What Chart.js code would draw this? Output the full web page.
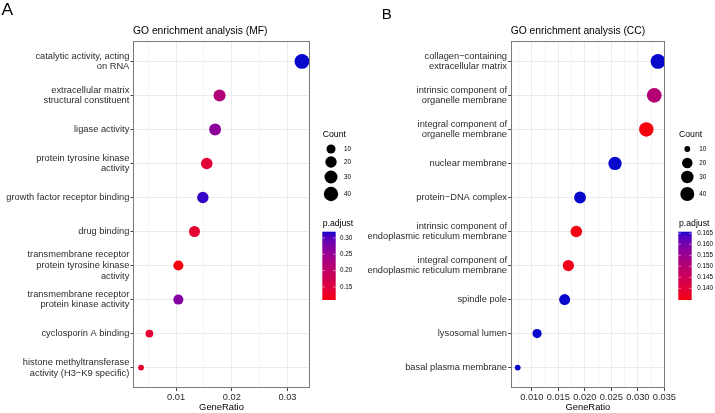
<!DOCTYPE html>
<html><head><meta charset="utf-8">
<script src="https://cdn.jsdelivr.net/npm/chart.js@4.4.1/dist/chart.umd.min.js"></script>
<style>
html,body{margin:0;padding:0;background:#fff;}
#wrap{position:relative;width:715px;height:413px;overflow:hidden;background:#fff;}
canvas{position:absolute;top:0;}
</style></head><body>
<div id="wrap">
<canvas id="cA" width="357" height="413" style="left:0px;width:357px;height:413px"></canvas>
<canvas id="cB" width="358" height="413" style="left:357px;width:358px;height:413px"></canvas>
</div>
<script>
// ---------------- data ----------------
const mfTerms = [
  ["catalytic activity, acting","on RNA"],
  ["extracellular matrix","structural constituent"],
  "ligase activity",
  ["protein tyrosine kinase","activity"],
  "growth factor receptor binding",
  "drug binding",
  ["transmembrane receptor","protein tyrosine kinase","activity"],
  ["transmembrane receptor","protein kinase activity"],
  "cyclosporin A binding",
  ["histone methyltransferase","activity (H3\u2212K9 specific)"]
];
const mfGeneRatio = [0.0326,0.0178,0.0170,0.0155,0.0148,0.0133,0.0104,0.0104,0.0052,0.0037];
const mfCount     = [44,24,23,21,20,18,14,14,7,5];
const mfPadjust   = [0.319,0.222,0.262,0.145,0.312,0.140,0.110,0.268,0.141,0.137];
const mfXTicks    = [0.01,0.02,0.03];
const mfXLabels   = ["0.01","0.02","0.03"];
const mfPTicks    = [0.15,0.20,0.25,0.30];
const mfPLabels   = ["0.15","0.20","0.25","0.30"];

const ccTerms = [
  ["collagen\u2212containing","extracellular matrix"],
  ["intrinsic component of","organelle membrane"],
  ["integral component of","organelle membrane"],
  "nuclear membrane",
  "protein\u2212DNA complex",
  ["intrinsic component of","endoplasmic reticulum membrane"],
  ["integral component of","endoplasmic reticulum membrane"],
  "spindle pole",
  "lysosomal lumen",
  "basal plasma membrane"
];
const ccGeneRatio = [0.0338,0.0331,0.0316,0.0257,0.0191,0.0184,0.0169,0.0162,0.0110,0.00735];
const ccCount     = [46,45,43,35,26,25,23,22,15,10];
const ccPadjust   = [0.1657,0.1505,0.1347,0.1657,0.1657,0.1352,0.1357,0.1657,0.1657,0.1657];
const ccXTicks    = [0.010,0.015,0.020,0.025,0.030,0.035];
const ccXLabels   = ["0.010","0.015","0.020","0.025","0.030","0.035"];
const ccPTicks    = [0.140,0.145,0.150,0.155,0.160,0.165];
const ccPLabels   = ["0.140","0.145","0.150","0.155","0.160","0.165"];

const countBreaks = [10,20,30,40];
const countLabels = ["10","20","30","40"];

// ---------------- helpers ----------------
const FONT = '"Liberation Sans", Arial, Helvetica, sans-serif';
function lin(c){c/=255;return c<=0.04045?c/12.92:Math.pow((c+0.055)/1.055,2.4);}
function toLab(r,g,b){
  const R=lin(r),G=lin(g),B=lin(b);
  const X=(0.4124*R+0.3576*G+0.1805*B)/0.95047,Y=(0.2126*R+0.7152*G+0.0722*B),Z=(0.0193*R+0.1192*G+0.9505*B)/1.08883;
  const h=t=>t>0.008856?Math.cbrt(t):(7.787*t+16/116);
  const fx=h(X),fy=h(Y),fz=h(Z);
  return [116*fy-16,500*(fx-fy),200*(fy-fz)];
}
function fromLab(L,a,b){
  const fy=(L+16)/116,fx=fy+a/500,fz=fy-b/200;
  const inv=t=>{const t3=t*t*t;return t3>0.008856?t3:(t-16/116)/7.787;};
  const X=0.95047*inv(fx),Y=inv(fy),Z=1.08883*inv(fz);
  const R=3.2406*X-1.5372*Y-0.4986*Z,G=-0.9689*X+1.8758*Y+0.0415*Z,B=0.0557*X-0.2040*Y+1.0570*Z;
  const g=c=>{c=c<=0.0031308?12.92*c:1.055*Math.pow(Math.max(c,0),1/2.4)-0.055;return Math.round(255*Math.min(1,Math.max(0,c)));};
  return 'rgb('+g(R)+','+g(G)+','+g(B)+')';
}
const LOW=toLab(245,0,12), HIGH=toLab(8,8,205);
function ramp(t){t=Math.min(1,Math.max(0,t));return fromLab(LOW[0]+(HIGH[0]-LOW[0])*t,LOW[1]+(HIGH[1]-LOW[1])*t,LOW[2]+(HIGH[2]-LOW[2])*t);}
function sizeR(c,cmin,cmax){return 2.9+4.5*Math.sqrt(Math.max(0,(c-cmin)/(cmax-cmin)));}

function minorBreaks(majors,lo,hi){
  const bd=majors[1]-majors[0];
  let b=majors.slice();
  if(lo<b[0]) b.unshift(b[0]-bd);
  if(hi>b[b.length-1]) b.push(b[b.length-1]+bd);
  const out=[];
  for(let i=0;i<b.length-1;i++){out.push(b[i]);out.push((b[i]+b[i+1])/2);}
  out.push(b[b.length-1]);
  return out.filter(v=>v>=lo-1e-12&&v<=hi+1e-12);
}

const deco = {
  id:'deco',
  afterDraw(chart){
    const o=chart.options.plugins.deco; const ctx=chart.ctx; const ca=chart.chartArea;
    ctx.save();
    // panel border
    ctx.strokeStyle='#7a7a7a'; ctx.lineWidth=1;
    ctx.strokeRect(Math.round(ca.left)+0.5,Math.round(ca.top)+0.5,Math.round(ca.right-ca.left)-1,Math.round(ca.bottom-ca.top)-1);
    // panel letter
    ctx.fillStyle='#000'; ctx.textBaseline='alphabetic'; ctx.textAlign='left';
    ctx.font=o.letterSize+'px '+FONT; ctx.fillText(o.letter,o.letterX,o.letterY);
    // title
    ctx.font='10.3px '+FONT; ctx.textBaseline='middle';
    ctx.fillText(o.title,ca.left,31);
    // Count legend
    ctx.font='8.7px '+FONT; ctx.fillText('Count',o.lgX,135);
    ctx.font='6.3px '+FONT;
    countBreaks.forEach((c,i)=>{
      const r=sizeR(c,o.cmin,o.cmax);
      ctx.beginPath(); ctx.arc(o.circX,o.keyY[i],r,0,Math.PI*2); ctx.fillStyle='#000'; ctx.fill();
      ctx.fillText(countLabels[i],o.cntLabX,o.keyY[i]);
    });
    // p.adjust legend
    ctx.font='8.7px '+FONT; ctx.fillText('p.adjust',o.lgX,224);
    const bx=o.barX,bw=13.4,bt=231.7,bb=300,bh=bb-bt;
    const grad=ctx.createLinearGradient(0,bb,0,bt);
    for(let k=0;k<=40;k++){grad.addColorStop(k/40,ramp(k/40));}
    ctx.fillStyle=grad; ctx.fillRect(bx,bt,bw,bh);
    ctx.font='6.3px '+FONT; ctx.fillStyle='#000';
    o.pTicks.forEach((p,i)=>{
      const y=bb-(p-o.pmin)/(o.pmax-o.pmin)*bh;
      ctx.strokeStyle='rgba(255,255,255,0.8)'; ctx.lineWidth=0.6;
      ctx.beginPath(); ctx.moveTo(bx,y); ctx.lineTo(bx+2.6,y); ctx.moveTo(bx+bw-2.6,y); ctx.lineTo(bx+bw,y); ctx.stroke();
      ctx.fillText(o.pLabels[i],o.pLabX,y);
    });
    ctx.restore();
  }
};

function makePanel(id,cfg){
  const rmin=Math.min(...cfg.ratio),rmax=Math.max(...cfg.ratio),rr=rmax-rmin;
  const xmin=rmin-0.05*rr,xmax=rmax+0.05*rr;
  const allX=minorBreaks(cfg.xTicks,xmin,xmax);
  const isMajor=v=>cfg.xTicks.some(m=>Math.abs(m-v)<1e-9);
  const majLabel=v=>{const i=cfg.xTicks.findIndex(m=>Math.abs(m-v)<1e-9);return i>=0?cfg.xLabels[i]:'';};
  const cmin=Math.min(...cfg.count),cmax=Math.max(...cfg.count);
  const pmin=Math.min(...cfg.padj),pmax=Math.max(...cfg.padj);
  const n=cfg.terms.length;
  new Chart(document.getElementById(id),{
    type:'scatter',
    data:{datasets:[{
      data:cfg.ratio.map((r,i)=>({x:r,y:i})),
      pointRadius:c=>sizeR(cfg.count[c.dataIndex],cmin,cmax),
      pointHoverRadius:c=>sizeR(cfg.count[c.dataIndex],cmin,cmax),
      backgroundColor:c=>ramp((cfg.padj[c.dataIndex]-pmin)/(pmax-pmin)),
      borderWidth:0
    }]},
    options:{
      responsive:false,animation:false,devicePixelRatio:1,
      events:[],
      layout:{padding:{left:0,top:41,right:cfg.padRight,bottom:0}},
      plugins:{legend:{display:false},tooltip:{enabled:false},
        deco:Object.assign({cmin,cmax,pmin,pmax},cfg.deco)},
      scales:{
        x:{type:'linear',min:xmin,max:xmax,
          afterBuildTicks:s=>{s.ticks=allX.map(v=>({value:v}));},
          afterFit:s=>{s.height=25;},
          ticks:{autoSkip:false,maxRotation:0,minRotation:0,padding:1,color:'#2b2b2b',
            font:{family:FONT,size:9.3},callback:v=>majLabel(v)},
          grid:{color:'#ebebeb',lineWidth:c=>isMajor(c.tick.value)?1:0.6,tickLength:3,tickWidth:1,
            tickColor:c=>isMajor(c.tick.value)?'#444':'rgba(0,0,0,0)'},
          border:{display:false},
          title:{display:true,text:'GeneRatio',color:'#000',font:{family:FONT,size:9.4},padding:{top:0,bottom:0}}
        },
        y:{type:'linear',min:-0.6,max:n-1+0.6,reverse:true,
          afterBuildTicks:s=>{s.ticks=cfg.terms.map((_,i)=>({value:i}));},
          afterFit:s=>{s.width=cfg.yWidth;},
          ticks:{autoSkip:false,padding:1.2,color:'#2b2b2b',font:{family:FONT,size:9.3,lineHeight:1.15},
            callback:v=>cfg.terms[v]},
          grid:{color:'#ebebeb',lineWidth:1,tickLength:2.5,tickWidth:1,tickColor:'#444'},
          border:{display:false}
        }
      }
    },
    plugins:[deco]
  });
}

makePanel('cA',{terms:mfTerms,ratio:mfGeneRatio,count:mfCount,padj:mfPadjust,
  xTicks:mfXTicks,xLabels:mfXLabels,yWidth:133,padRight:47,
  deco:{letter:'A',letterSize:17.4,letterX:1.5,letterY:14.5,title:'GO enrichment analysis (MF)',
    lgX:322.7,circX:331,cntLabX:344,keyY:[149,162,177,194],barX:322.3,pLabX:340,
    pTicks:mfPTicks,pLabels:mfPLabels}});
makePanel('cB',{terms:ccTerms,ratio:ccGeneRatio,count:ccCount,padj:ccPadjust,
  xTicks:ccXTicks,xLabels:ccXLabels,yWidth:153.7,padRight:50,
  deco:{letter:'B',letterSize:15,letterX:24.7,letterY:19,title:'GO enrichment analysis (CC)',
    lgX:322,circX:330.3,cntLabX:342.3,keyY:[149,163,177,194],barX:321.3,pLabX:340.3,
    pTicks:ccPTicks,pLabels:ccPLabels}});
</script>
</body></html>
